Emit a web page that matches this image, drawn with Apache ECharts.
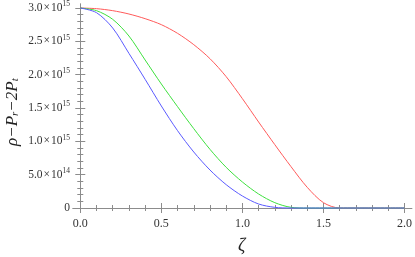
<!DOCTYPE html>
<html><head><meta charset="utf-8">
<script src="https://cdn.jsdelivr.net/npm/echarts@6/dist/echarts.min.js"></script>
<style>html,body{margin:0;padding:0;background:#fff}#c{width:415px;height:257px}</style>
</head><body><div id="c"></div>
<script>
// values in units of 1e15
const zeta = [0,0.1,0.2,0.3,0.4,0.5,0.6,0.7,0.8,0.9,1.0,1.1,1.2,1.3,1.4,1.5,1.6,1.7,1.8,1.9,2.0];
const redVals   = [3.00,2.99,2.96,2.91,2.84,2.75,2.62,2.45,2.24,1.97,1.64,1.29,0.95,0.62,0.31,0.08,0.0,0,0,0,0];
const greenVals = [3.00,2.96,2.83,2.58,2.22,1.86,1.52,1.19,0.88,0.61,0.39,0.21,0.08,0.01,0,0,0,0,0,0,0];
const blueVals  = [3.00,2.93,2.70,2.32,1.93,1.53,1.16,0.84,0.57,0.35,0.18,0.06,0.01,0,0,0,0,0,0,0,0];
const xMajor = [0,0.5,1.0,1.5,2.0];
const xMinor = [0.1,0.2,0.3,0.4,0.6,0.7,0.8,0.9,1.1,1.2,1.3,1.4,1.6,1.7,1.8,1.9];
const yMajor = [0,0.5,1.0,1.5,2.0,2.5,3.0];
const yMinor = [0.1,0.2,0.3,0.4,0.6,0.7,0.8,0.9,1.1,1.2,1.3,1.4,1.6,1.7,1.8,1.9,2.1,2.2,2.3,2.4,2.6,2.7,2.8,2.9];

const FONT = '"Liberation Serif","Times New Roman",serif';
const FRAME = '#8c8c8c';
const XMIN=-0.045, XMAX=2.045, YMIN=-0.06, YMAX=3.06;

function pairs(v){ return zeta.map((x,i)=>[x, v[i]]); }

function xAx(pos, vals, len, labels, line){
  return {type:'value', position:pos, min:XMIN, max:XMAX,
    axisLine:{show:line, lineStyle:{color:FRAME,width:1}},
    axisTick:{show:true, inside:true, length:len, customValues:vals, lineStyle:{color:FRAME}},
    axisLabel:{show:labels, customValues:vals, fontFamily:FONT, fontSize:12, color:'#333', margin:6,
      formatter:v=>v.toFixed(1)},
    splitLine:{show:false}};
}
function yAx(pos, vals, len, labels, line){
  return {type:'value', position:pos, min:YMIN, max:YMAX,
    axisLine:{show:line, lineStyle:{color:FRAME,width:1}},
    axisTick:{show:true, inside:true, length:len, customValues:vals, lineStyle:{color:FRAME}},
    axisLabel:{show:labels, customValues:vals, margin:3,
      formatter:function(v){
        if (Math.abs(v)<1e-9) return '{a|0}';
        if (Math.abs(v-0.5)<1e-9) return '{a|5.0}{x|×}{a|10}{s|14}';
        return '{a|'+v.toFixed(1)+'}{x|×}{a|10}{s|15}';
      },
      rich:{a:{fontFamily:FONT,fontSize:11.5,color:'#333'},
            x:{fontFamily:FONT,fontSize:11.5,color:'#333',padding:[0,1,0,1]},
            s:{fontFamily:FONT,fontSize:7.5,color:'#333',padding:[0,0,7,0]}}},
    splitLine:{show:false}};
}

const chart = echarts.init(document.getElementById('c'), null, {renderer:'canvas'});
chart.setOption({
  animation:false,
  grid:{left:73, right:3, top:4, bottom:45, containLabel:false},
  xAxis:[xAx('bottom', xMajor, 5, true, true), xAx('bottom', xMinor, 3, false, false),
         xAx('top', xMajor, 5, false, true), xAx('top', xMinor, 3, false, false)],
  yAxis:[yAx('left', yMajor, 5, true, true), yAx('left', yMinor, 3, false, false),
         yAx('right', yMajor, 5, false, true), yAx('right', yMinor, 3, false, false)],
  graphic:[
    {type:'text', left:238, top:237, style:{text:'ζ', font:'italic 18px '+FONT, fill:'#222'}},
    {type:'text', x:4, y:146, rotation:Math.PI/2,
      style:{text:'{m|ρ−P}{b|r}{m|−2P}{b|t}', fill:'#222',
        rich:{m:{font:'italic 17px '+FONT, fill:'#222'}, b:{font:'italic 11px '+FONT, fill:'#222', padding:[6,0,0,0]}}}}
  ],
  series:[
    {type:'line', name:'red', data:pairs(redVals), smooth:0.3, showSymbol:false, xAxisIndex:0, yAxisIndex:0,
      lineStyle:{color:'#ff5a5a', width:1}},
    {type:'line', name:'green', data:pairs(greenVals), smooth:0.3, showSymbol:false, xAxisIndex:0, yAxisIndex:0,
      lineStyle:{color:'#3ee03e', width:1}},
    {type:'line', name:'blue', data:pairs(blueVals), smooth:0.3, showSymbol:false, xAxisIndex:0, yAxisIndex:0,
      lineStyle:{color:'#5a5aff', width:1}}
  ]
});
</script></body></html>
